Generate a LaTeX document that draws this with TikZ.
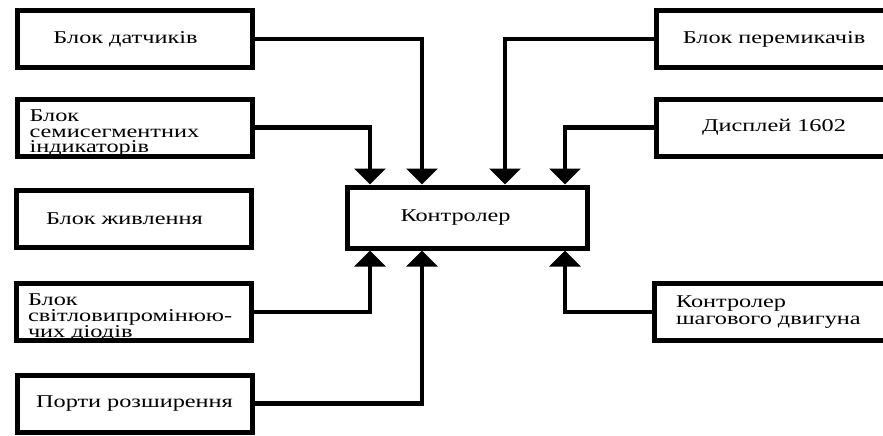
\documentclass[tikz,border=0pt]{standalone}
\usepackage{fontspec}
\setmainfont{Liberation Serif}[FakeStretch=1.35]
\usetikzlibrary{arrows.meta,positioning}

\begin{document}
\begin{tikzpicture}[
  x=1pt, y=-1pt,
  block/.style={
    rectangle, draw=black, line width=5pt, fill=white,
    minimum width=235pt, minimum height=57pt,
    inner xsep=12pt, inner ysep=2pt, text width=211pt, align=center,
    font=\fontsize{18}{17}\selectfont
  },
  lblock/.style={block, align=left},
  tblock/.style={lblock, font=\fontsize{18}{16}\selectfont,
    text height=22pt, text depth=35pt, inner ysep=0pt},
  arr/.style={-{Triangle[width=31pt,length=16pt]}, line width=4.5pt},
]
  \clip (0,0) rectangle (883,436);

  % Left column
  \node[lblock] (sens) at (135,39) {\hspace*{24pt}Блок датчиків};
  \node[tblock] (seg) at (135,127.5) {Блок\\семисегментних\\індикаторів};
  \node[lblock] (power) at (133.5,219) {\hspace*{18pt}Блок живлення};
  \node[tblock] (led) at (133.5,312) {Блок\\світловипромінюю-\\чих діодів};
  \node[block] (ports) at (134.5,403.5) {Порти розширення};

  % Middle
  \node[lblock, minimum width=240pt, minimum height=61pt] (ctrl) at (467,217.5) {\hspace*{39pt}Контролер};

  % Right column
  \node[block] (sw) at (774,39) {Блок перемикачів};
  \node[block] (disp) at (774,127.5) {Дисплей 1602};
  \node[lblock, inner xsep=22pt, text width=196pt] (motor) at (774,312) {Контролер\\шагового двигуна};

  % Arrows
  \draw[arr] (sens.east) -| ([xshift=-45pt]ctrl.north);
  \draw[arr] (seg.east) -| ([xshift=-97pt]ctrl.north);
  \draw[arr] (sw.west) -| ([xshift=38pt]ctrl.north);
  \draw[arr] (disp.west) -| ([xshift=98pt]ctrl.north);
  \draw[arr] (led.east) -| ([xshift=-97pt]ctrl.south);
  \draw[arr] (ports.east) -| ([xshift=-45pt]ctrl.south);
  \draw[arr] (motor.west) -| ([xshift=98pt]ctrl.south);
\end{tikzpicture}
\end{document}
